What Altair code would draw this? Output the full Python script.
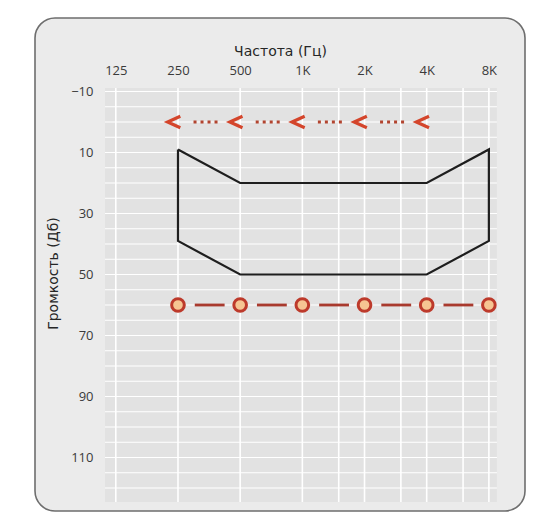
import altair as alt
import pandas as pd

# ---- data ----
freq_labels = ["125", "250", "500", "1K", "2K", "4K", "8K"]
db_ticks = [-10, 0, 10, 20, 30, 40, 50, 60, 70, 80, 90, 100, 110, 120]

# hearing-range outline (closed path)
poly_freqs = ["250", "500", "4K", "8K", "8K", "4K", "500", "250", "250"]
poly_db = [9, 20, 20, 9, 39, 50, 50, 39, 9]

# air-conduction threshold (circles)
air_freqs = ["250", "500", "1K", "2K", "4K", "8K"]
air_db = [60, 60, 60, 60, 60, 60]

# bone-conduction markers (arrows)
bone_freqs = ["250", "500", "1K", "2K", "4K"]
bone_db = [0, 0, 0, 0, 0]

# audiogram grid: frequency index positions (incl. inter-octave), dB lines
vgrid_idx = [0, 1, 2, 3, 3.585, 4, 4.585, 5, 5.585, 6]
hgrid_db = list(range(-10, 125, 5))
grid_x = [-0.174, 6.13]     # extent of the graph paper (frequency index)
grid_y = [-11.15, 124.6]    # extent of the graph paper (dB)

# ---- layout ----
W, H = 490, 493
xs = alt.Scale(domain=[-1.2995, 6.581], nice=False, zero=False)
ys = alt.Scale(domain=[-34.1, 127.54], reverse=True, nice=False, zero=False)
LFONT = "Open Sans"
TFONT = "DejaVu Sans"

idx = {f: i for i, f in enumerate(freq_labels)}
label_expr = "[" + ",".join("'%s'" % l for l in freq_labels) + "][datum.value]"

poly_df = pd.DataFrame({
    "i": [idx[f] for f in poly_freqs],
    "db": poly_db,
    "o": list(range(len(poly_db))),
})
X_AXIS = alt.Axis(
    orient="top", offset=-70, values=list(range(len(freq_labels))),
    labelExpr=label_expr, title="Частота (Гц)", labelFont=LFONT,
    labelFontSize=13, labelColor="#3a3a3a", labelPadding=11, titleFont=TFONT,
    titleFontSize=14, titleFontWeight="normal", titleColor="#262626",
    titlePadding=6, labelOverlap=False, labelBound=False, labelFlush=False)
Y_AXIS = alt.Axis(
    offset=-70, values=db_ticks, title="Громкость (Дб)", labelFont=LFONT,
    labelFontSize=13, labelColor="#3a3a3a", labelPadding=12, titleFont=TFONT,
    titleFontSize=14, titleFontWeight="normal", titleColor="#262626",
    titlePadding=10, titleY=255, labelOverlap=False, labelBound=False,
    labelFlush=False)

paper = alt.Chart(pd.DataFrame({
    "x0": [grid_x[0]], "x1": [grid_x[1]], "y0": [grid_y[0]], "y1": [grid_y[1]]
})).mark_rect(fill="#e2e2e2").encode(
    x=alt.X("x0:Q", scale=xs, axis=X_AXIS), x2="x1:Q",
    y=alt.Y("y0:Q", scale=ys, axis=Y_AXIS), y2="y1:Q")

hgrid = alt.Chart(pd.DataFrame({
    "db": hgrid_db, "x0": grid_x[0], "x1": grid_x[1]
})).mark_rule(color="white", strokeWidth=1.2).encode(
    x=alt.X("x0:Q", scale=xs), x2="x1:Q",
    y=alt.Y("db:Q", scale=ys))
vgrid = alt.Chart(pd.DataFrame({
    "i": vgrid_idx, "y0": grid_y[0], "y1": grid_y[1]
})).mark_rule(color="white", strokeWidth=1.6).encode(
    x=alt.X("i:Q", scale=xs),
    y=alt.Y("y0:Q", scale=ys), y2="y1:Q")

outline = alt.Chart(poly_df).mark_line(
    color="#1e1e1e", strokeWidth=2.2, strokeJoin="miter").encode(
    x=alt.X("i:Q", scale=xs), y=alt.Y("db:Q", scale=ys), order="o:O")

air_df = pd.DataFrame({"i": [idx[f] for f in air_freqs], "db": air_db})
seg_df = pd.DataFrame({
    "a": [idx[f] + 0.27 for f in air_freqs[:-1]],
    "b": [idx[f] - 0.25 for f in air_freqs[1:]],
    "db": air_db[:-1],
})
air_segs = alt.Chart(seg_df).mark_rule(color="#a93a2e", strokeWidth=2.8).encode(
    x=alt.X("a:Q", scale=xs), x2="b:Q", y=alt.Y("db:Q", scale=ys))
air_pts = alt.Chart(air_df).mark_point(
    shape="circle", filled=True, fill="#f6c592", stroke="#bd3a2b",
    strokeWidth=3, size=160, opacity=1, fillOpacity=1).encode(
    x=alt.X("i:Q", scale=xs), y=alt.Y("db:Q", scale=ys))

bone_df = pd.DataFrame({"i": [idx[f] for f in bone_freqs], "db": bone_db})
dot_df = pd.DataFrame({
    "a": [idx[f] + 0.25 for f in bone_freqs[:-1]],
    "b": [idx[f] + 0.68 for f in bone_freqs[:-1]],
    "db": bone_db[:-1],
})
bone_dots = alt.Chart(dot_df).mark_rule(
    color="#b2442f", strokeWidth=3, strokeDash=[3, 4], strokeCap="butt").encode(
    x=alt.X("a:Q", scale=xs), x2="b:Q", y=alt.Y("db:Q", scale=ys))
bone_pts = alt.Chart(bone_df).mark_point(
    shape="M1,-0.9L-1,0L1,0.9", filled=False, stroke="#d4452b",
    strokeWidth=3.2, size=160, opacity=1, xOffset=-4, strokeJoin="miter").encode(
    x=alt.X("i:Q", scale=xs), y=alt.Y("db:Q", scale=ys))

chart = alt.layer(
    paper, hgrid, vgrid, outline, air_segs, air_pts, bone_dots, bone_pts,
).properties(
    width=W, height=H,
    autosize=alt.AutoSizeParams(type="none"),
    padding={"left": 27, "top": 10, "right": 5, "bottom": 4},
    background="white",
).configure_view(
    fill="#ebebeb", stroke="#6e6e6e", strokeWidth=1.6, cornerRadius=20,
).configure_axis(
    grid=False, ticks=False, domain=False, labelOverlap=False,
).configure_axisY(
    labelOverlap=False,
)

chart.save("out.html", embed_options={"renderer": "svg", "actions": False})
